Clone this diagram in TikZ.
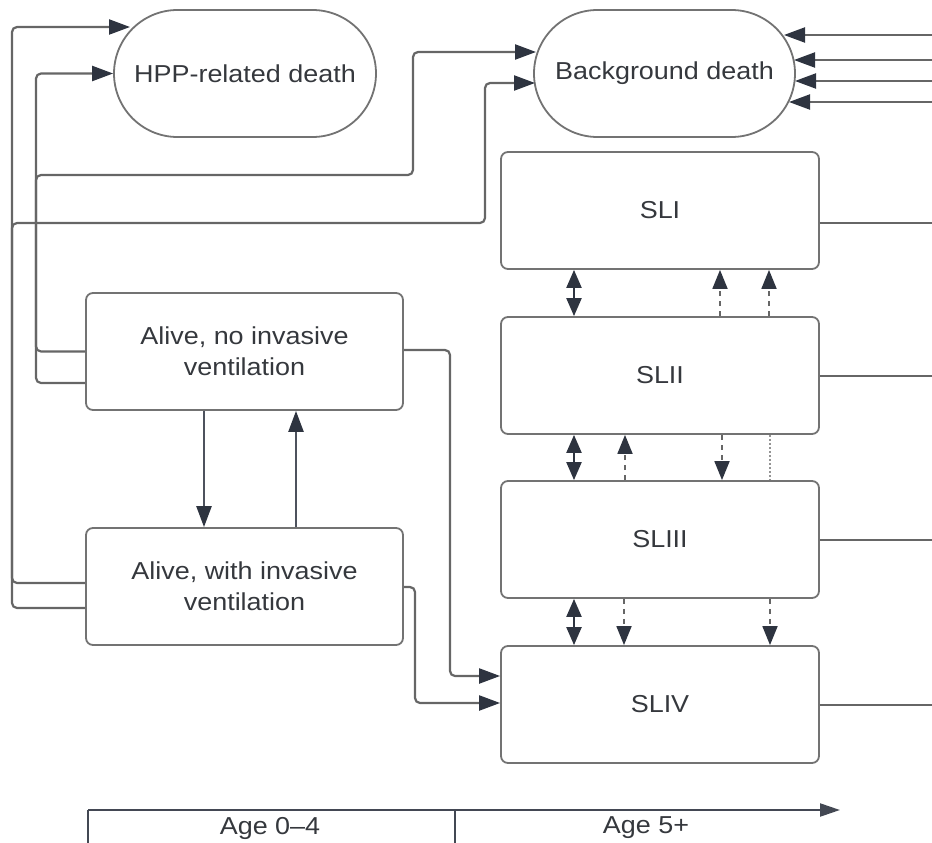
\documentclass[tikz,border=0pt]{standalone}
\usepackage{fontspec}
\setmainfont{Liberation Sans}[FakeStretch=1.1]
\usetikzlibrary{arrows.meta,shapes.misc}
\definecolor{linec}{HTML}{666666}
\definecolor{boxc}{HTML}{737373}
\definecolor{tipc}{HTML}{2E3440}
\definecolor{txtc}{HTML}{35383D}
\begin{document}
\begin{tikzpicture}[x=1pt,y=-1pt,
  txt/.style={font=\fontsize{24.5}{31}\selectfont, text=txtc},
  box/.style={txt, draw=boxc, line width=1.8pt, rounded corners=7pt, minimum width=317pt, minimum height=117pt, align=center, inner sep=0pt},
  stad/.style={txt, draw=boxc, line width=1.8pt, rounded rectangle, minimum width=262pt, minimum height=127pt, inner sep=0pt},
  conn/.style={draw=linec, line width=2.2pt, rounded corners=5pt},
  tip/.style={-{Triangle[length=21pt,width=15pt,color=tipc]}},
  strong/.style={draw=tipc!85!white, line width=2.4pt},
  dbl/.style={draw=tipc, line width=2.2pt, {Triangle[length=18pt,width=15pt]}-{Triangle[length=18pt,width=15pt]}},
  dsh/.style={draw=linec, line width=1.8pt, dash pattern=on 5pt off 5pt, -{Triangle[length=19pt,width=15pt,color=tipc]}},
  dotl/.style={draw=linec!70!white, line width=1.5pt, dash pattern=on 2pt off 2pt},
  axis/.style={draw=tipc!90!white, line width=2.2pt}
]
\useasboundingbox (0,0) rectangle (932,843);

% nodes
\node[stad] (hpp) at (245,73.5) {HPP-related death};
\node[stad, minimum width=261pt] (bg) at (664.5,73.5) {Background death};
\node[box, minimum width=318pt] (sl1) at (660,210.5) {SLI};
\node[box, minimum width=318pt] (sl2) at (660,375.5) {SLII};
\node[box, minimum width=318pt] (sl3) at (660,539.5) {SLIII};
\node[box, minimum width=318pt] (sl4) at (660,704.5) {SLIV};
\node[box] (a1) at (244.5,351.5) {Alive, no invasive\\ventilation};
\node[box] (a2) at (244.5,586.5) {Alive, with invasive\\ventilation};

% tip points on curved borders
\coordinate (hppA) at (130,27);
\coordinate (bgA) at (536,52);
\coordinate (bgB) at (535,83);
\coordinate (bgR1) at (784,35);
\coordinate (bgR2) at (794,60);
\coordinate (bgR3) at (795,81);
\coordinate (bgR4) at (789,102);
\coordinate (edge1) at (932,35);
\coordinate (edge2) at (932,60);
\coordinate (edge3) at (932,81);
\coordinate (edge4) at (932,102);
\coordinate (out1) at (932,223);
\coordinate (out2) at (932,376);
\coordinate (out3) at (932,540);
\coordinate (out4) at (932,705);

% left connectors to deaths
\draw[conn,tip] (a1.west) -- (36,351.5) |- (hpp.west);
\draw[conn,tip] (a1.west |- 0,383) -- (36,383) |- (413,175) |- (bgA);
\draw[conn,tip] (a2.west |- 0,583) -- (12,583) |- (hppA);
\draw[conn,tip] (a2.west |- 0,608) -- (12,608) |- (485,223) |- (bgB);

% right side: SL states to background death (off-picture)
\draw[conn] (sl1.east |- out1) -- (out1);
\draw[conn] (sl2.east |- out2) -- (out2);
\draw[conn] (sl3.east |- out3) -- (out3);
\draw[conn] (sl4.east |- out4) -- (out4);
\draw[conn,tip] (edge1) -- (bgR1);
\draw[conn,tip] (edge2) -- (bgR2);
\draw[conn,tip] (edge3) -- (bgR3);
\draw[conn,tip] (edge4) -- (bgR4);

% alive transitions
\draw[strong,tip] (a1.south -| 204,0) -- (a2.north -| 204,0);
\draw[strong,tip] (a2.north -| 296,0) -- (a1.south -| 296,0);

% alive to SLIV
\draw[conn,tip] (a1.east |- 0,350) -| (450,676) -- (sl4.west |- 0,676);
\draw[conn,tip] (a2.east |- 0,587) -| (415,703) -- (sl4.west |- 0,703);

% SL transitions
\draw[dbl] (sl1.south -| 574,0) -- (sl2.north -| 574,0);
\draw[dsh] (sl2.north -| 720,0) -- (sl1.south -| 720,0);
\draw[dsh] (sl2.north -| 769,0) -- (sl1.south -| 769,0);

\draw[dbl] (sl2.south -| 574,0) -- (sl3.north -| 574,0);
\draw[dsh] (sl3.north -| 625,0) -- (sl2.south -| 625,0);
\draw[dsh] (sl2.south -| 722,0) -- (sl3.north -| 722,0);
\draw[dotl] (sl2.south -| 770,0) -- (sl3.north -| 770,0);

\draw[dbl] (sl3.south -| 574,0) -- (sl4.north -| 574,0);
\draw[dsh] (sl3.south -| 624,0) -- (sl4.north -| 624,0);
\draw[dsh] (sl3.south -| 770,0) -- (sl4.north -| 770,0);

% age axis
\coordinate (ax0) at (88,810);
\coordinate (ax1) at (840,810);
\coordinate (axm) at (455,810);
\coordinate (ax0b) at (88,843);
\coordinate (axmb) at (455,843);
\draw[axis,-{Triangle[length=20pt,width=13pt]}] (ax0) -- (ax1);
\draw[axis] (ax0) -- (ax0b);
\draw[axis] (axm) -- (axmb);
\node[txt] (age1) at (270,828) {Age 0–4};
\node[txt] (age2) at (646,828) {Age 5+};
\end{tikzpicture}
\end{document}
